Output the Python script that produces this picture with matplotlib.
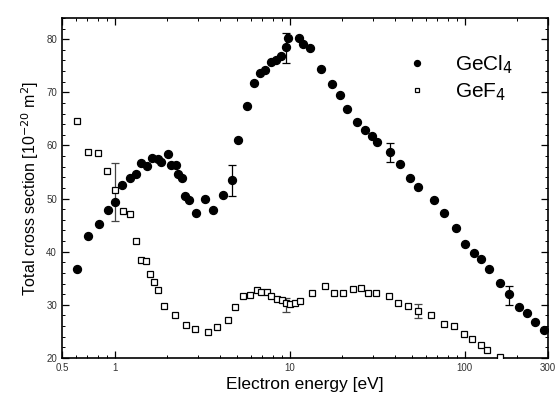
import matplotlib
matplotlib.use("Agg")
import matplotlib.pyplot as plt
from matplotlib.ticker import FixedLocator, NullFormatter, MultipleLocator, LogLocator

plt.rcParams['font.family'] = ['Liberation Sans', 'DejaVu Sans']

# GeCl4 data (electron energy eV, total cross section 1e-20 m^2)
gecl4_energy = [0.608, 0.703, 0.811, 0.916, 1.01, 1.11, 1.23, 1.32, 1.42, 1.53, 1.64, 1.77, 1.85,
                2.02, 2.11, 2.25, 2.32, 2.42, 2.53, 2.65, 2.92, 3.30, 3.67, 4.14, 4.68, 5.08,
                5.75, 6.27, 6.75, 7.23, 7.80, 8.33, 8.88, 9.49, 9.8, 11.3, 12.0, 13.1, 15.2,
                17.4, 19.5, 21.4, 24.2, 27.1, 29.7, 31.6, 37.5, 43.0, 48.9, 54.5, 66.7, 76.7,
                89.8, 100.8, 112.6, 124, 137, 158.8, 179, 205, 227, 253, 286]
gecl4_sigma = [36.8, 42.9, 45.2, 47.9, 49.3, 52.6, 53.8, 54.7, 56.6, 56.1, 57.7, 57.4, 56.9,
               58.3, 56.4, 56.4, 54.7, 53.9, 50.4, 49.8, 47.2, 49.9, 47.9, 50.6, 53.4, 61.0,
               67.5, 71.7, 73.7, 74.2, 75.8, 76.0, 76.9, 78.5, 80.3, 80.3, 79.1, 78.3, 74.3,
               71.5, 69.5, 66.8, 64.4, 63.0, 61.8, 60.6, 58.7, 56.5, 53.8, 52.1, 49.7, 47.2,
               44.4, 41.4, 39.7, 38.6, 36.8, 34.1, 32.0, 29.6, 28.5, 26.7, 25.2]

# GeF4 data
gef4_energy = [0.608, 0.709, 0.808, 0.908, 1.0, 1.12, 1.22, 1.32, 1.42, 1.52, 1.60, 1.69, 1.78,
               1.91, 2.22, 2.56, 2.9, 3.4, 3.83, 4.43, 4.88, 5.45, 5.92, 6.49, 6.85, 7.4, 7.87,
               8.43, 9.0, 9.6, 10.1, 10.7, 11.5, 13.4, 16.0, 17.9, 20.2, 23.0, 25.6, 27.9,
               31.3, 36.9, 41.7, 47.5, 54.2, 63.9, 76.3, 86.6, 98.9, 110.7, 123.4, 135, 159]
gef4_sigma = [64.6, 58.8, 58.6, 55.1, 51.6, 47.6, 47.0, 42.1, 38.5, 38.3, 35.8, 34.2, 32.7,
              29.7, 28.0, 26.2, 25.5, 24.8, 25.9, 27.2, 29.6, 31.7, 31.9, 32.8, 32.5, 32.4, 31.7,
              31.1, 30.9, 30.4, 30.1, 30.3, 30.8, 32.3, 33.5, 32.3, 32.2, 32.9, 33.1, 32.3,
              32.3, 31.6, 30.3, 29.8, 28.9, 28.0, 26.4, 26.0, 24.5, 23.5, 22.5, 21.5, 20.2]

# Representative error bars
gecl4_err_energy = [4.68, 9.49, 37.5, 179]
gecl4_err_sigma = [53.4, 78.3, 58.7, 31.8]
gecl4_err = [3.0, 2.8, 1.8, 1.8]
gef4_err_energy = [1.0, 9.6, 54.2]
gef4_err_sigma = [51.2, 30.0, 28.9]
gef4_err = [5.4, 1.3, 1.3]

x_ticks = [0.5, 1, 10, 100, 300]
x_ticklabels = ['0.5', '1', '10', '100', '300']
y_ticks = [20, 30, 40, 50, 60, 70, 80]

fig = plt.figure(figsize=(5.57, 3.99), dpi=100)
ax = fig.add_axes([0.111, 0.103, 0.873, 0.852])

ax.errorbar(gecl4_err_energy, gecl4_err_sigma, yerr=gecl4_err, fmt='none',
            ecolor='black', elinewidth=0.9, capsize=3, capthick=0.9, zorder=2)
ax.errorbar(gef4_err_energy, gef4_err_sigma, yerr=gef4_err, fmt='none',
            ecolor='#444444', elinewidth=0.9, capsize=3, capthick=0.9, zorder=2)

ax.plot(gecl4_energy, gecl4_sigma, 'o', color='black', markersize=5.7,
        linestyle='none', label=r'GeCl$_4$', zorder=3)
ax.plot(gef4_energy, gef4_sigma, 's', markerfacecolor='white', markeredgecolor='black',
        markeredgewidth=0.9, markersize=4.2, linestyle='none', label=r'GeF$_4$', zorder=3)

ax.set_xscale('log')
ax.set_xlim(0.5, 300)
ax.set_ylim(20, 84)

ax.xaxis.set_major_locator(FixedLocator(x_ticks))
ax.set_xticklabels(x_ticklabels)
ax.xaxis.set_minor_locator(LogLocator(base=10, subs=range(2, 10)))
ax.xaxis.set_minor_formatter(NullFormatter())
ax.yaxis.set_major_locator(FixedLocator(y_ticks))
ax.yaxis.set_minor_locator(MultipleLocator(2))

ax.tick_params(which='both', direction='in', top=True, right=True, labelsize=7, colors='black')
ax.tick_params(which='major', length=5, width=0.9)
ax.tick_params(which='minor', length=2.5, width=0.7)
for lbl in ax.get_xticklabels() + ax.get_yticklabels():
    lbl.set_color('#333333')
for s in ax.spines.values():
    s.set_linewidth(1.2)

ax.set_xlabel('Electron energy [eV]', fontsize=12.5, labelpad=3)
ax.set_ylabel(r'Total cross section [10$^{-20}$ m$^2$]', fontsize=11.5, labelpad=4)

ax.legend(loc='upper left', bbox_to_anchor=(0.675, 0.94), frameon=False, fontsize=15,
          handletextpad=1.2, labelspacing=0.3, borderpad=0.2, handlelength=1.2,
          markerscale=0.75)

fig.savefig('out.png', dpi=100)
